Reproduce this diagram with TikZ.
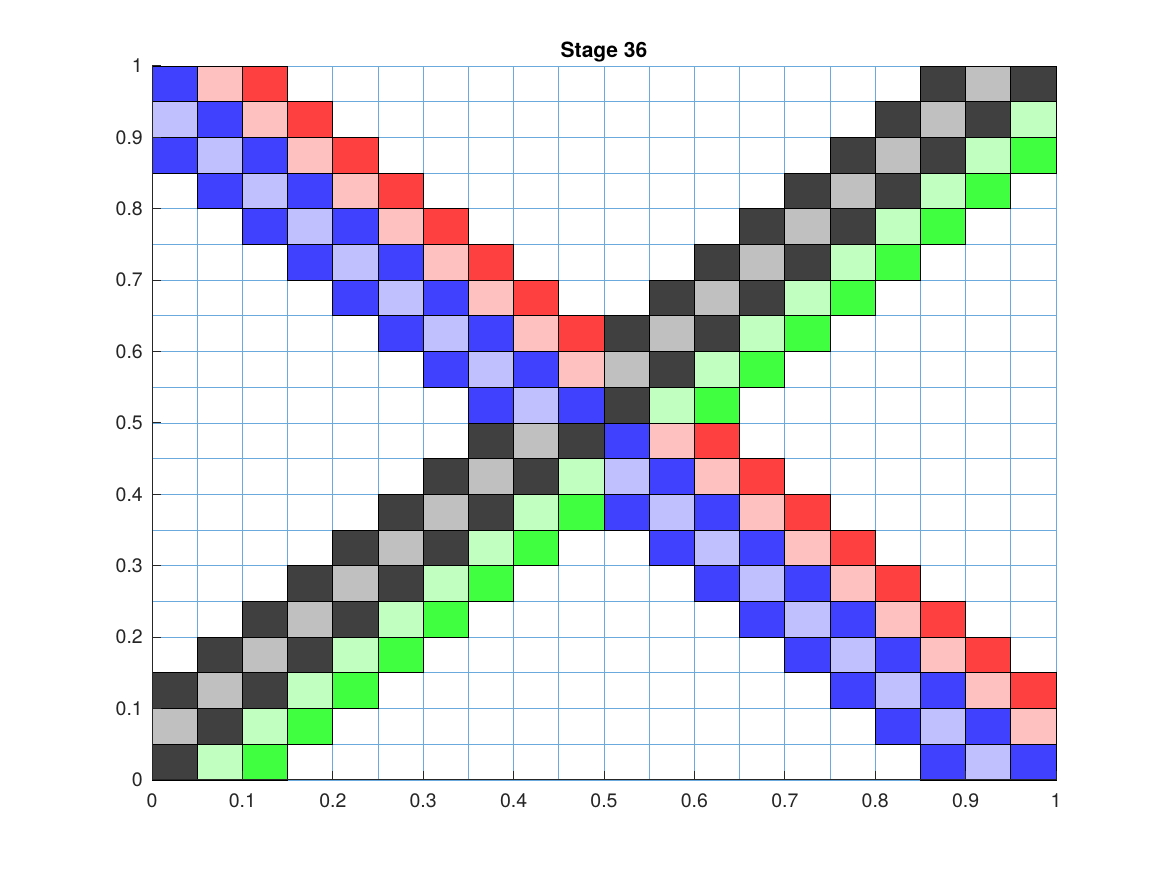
\documentclass[tikz,border=0pt]{standalone}
\usepackage{fontspec}
\setmainfont{TeX Gyre Heros}
\definecolor{Bl}{HTML}{4040FF}
\definecolor{La}{HTML}{C0C0FF}
\definecolor{Pk}{HTML}{FFC0C0}
\definecolor{Rd}{HTML}{FF4040}
\definecolor{Dk}{HTML}{404040}
\definecolor{Gy}{HTML}{C0C0C0}
\definecolor{Lg}{HTML}{C0FFC0}
\definecolor{Gn}{HTML}{40FF40}
\definecolor{gridblue}{HTML}{6AAADC}
\definecolor{axc}{HTML}{262626}
\newcommand\cellrow[3]{%
  \foreach \k [count=\i from 0] in {#3} {%
    \filldraw[cellstyle, fill=\k] ({#2+\i},{19-#1}) rectangle ++(1,1);
  }%
}
\tikzset{
  cellstyle/.style={draw=black, line width=0.9pt},
  gridline/.style={draw=gridblue, line width=0.9pt},
  ticklabel/.style={font=\fontsize{19.5}{23}\selectfont, text=axc, inner sep=0pt},
  axisline/.style={draw=axc, line width=1pt},
}
\begin{document}
\begin{tikzpicture}[x=1pt,y=1pt]
\useasboundingbox[fill=white] (0,0) rectangle (1167,875);
\begin{scope}[shift={(152,95)},x=45.2pt,y=35.7pt]
  \foreach \g in {0,...,20} {
    \draw[gridline] (\g,0) -- (\g,20);
    \draw[gridline] (0,\g) -- (20,\g);
  }
  % rows from top
  \cellrow{0}{0}{Bl,Pk,Rd}
  \cellrow{0}{17}{Dk,Gy,Dk}
  \cellrow{1}{0}{La,Bl,Pk,Rd}
  \cellrow{1}{16}{Dk,Gy,Dk,Lg}
  \cellrow{2}{0}{Bl,La,Bl,Pk,Rd}
  \cellrow{2}{15}{Dk,Gy,Dk,Lg,Gn}
  \cellrow{3}{1}{Bl,La,Bl,Pk,Rd}
  \cellrow{3}{14}{Dk,Gy,Dk,Lg,Gn}
  \cellrow{4}{2}{Bl,La,Bl,Pk,Rd}
  \cellrow{4}{13}{Dk,Gy,Dk,Lg,Gn}
  \cellrow{5}{3}{Bl,La,Bl,Pk,Rd}
  \cellrow{5}{12}{Dk,Gy,Dk,Lg,Gn}
  \cellrow{6}{4}{Bl,La,Bl,Pk,Rd}
  \cellrow{6}{11}{Dk,Gy,Dk,Lg,Gn}
  \cellrow{7}{5}{Bl,La,Bl,Pk,Rd}
  \cellrow{7}{10}{Dk,Gy,Dk,Lg,Gn}
  \cellrow{8}{6}{Bl,La,Bl,Pk,Gy,Dk,Lg,Gn}
  \cellrow{9}{7}{Bl,La,Bl,Dk,Lg,Gn}
  \cellrow{10}{7}{Dk,Gy,Dk,Bl,Pk,Rd}
  \cellrow{11}{6}{Dk,Gy,Dk,Lg,La,Bl,Pk,Rd}
  \cellrow{12}{5}{Dk,Gy,Dk,Lg,Gn,Bl,La,Bl,Pk,Rd}
  \cellrow{13}{4}{Dk,Gy,Dk,Lg,Gn}
  \cellrow{13}{11}{Bl,La,Bl,Pk,Rd}
  \cellrow{14}{3}{Dk,Gy,Dk,Lg,Gn}
  \cellrow{14}{12}{Bl,La,Bl,Pk,Rd}
  \cellrow{15}{2}{Dk,Gy,Dk,Lg,Gn}
  \cellrow{15}{13}{Bl,La,Bl,Pk,Rd}
  \cellrow{16}{1}{Dk,Gy,Dk,Lg,Gn}
  \cellrow{16}{14}{Bl,La,Bl,Pk,Rd}
  \cellrow{17}{0}{Dk,Gy,Dk,Lg,Gn}
  \cellrow{17}{15}{Bl,La,Bl,Pk,Rd}
  \cellrow{18}{0}{Gy,Dk,Lg,Gn}
  \cellrow{18}{16}{Bl,La,Bl,Pk}
  \cellrow{19}{0}{Dk,Lg,Gn}
  \cellrow{19}{17}{Bl,La,Bl}
  % axes
  \draw[axisline] (0,20) -- (0,0) -- (20,0);
  \foreach \n/\v in {0/0,1/0.1,2/0.2,3/0.3,4/0.4,5/0.5,6/0.6,7/0.7,8/0.8,9/0.9,10/1} {
    \draw[axisline] ({2*\n},0) -- ++(0,9pt);
    \draw[axisline] (0,{2*\n}) -- ++(9pt,0);
    \node[ticklabel, anchor=north, yshift=-13pt] (xl\n) at ({2*\n},0) {\v};
    \node[ticklabel, anchor=east, xshift=-9pt] (yl\n) at (0,{2*\n}) {\v};
  }
\end{scope}
\node[font=\bfseries\fontsize{21}{25}\selectfont, anchor=base, inner sep=0pt] (title) at (604,817) {Stage 36};
\end{tikzpicture}
\end{document}
